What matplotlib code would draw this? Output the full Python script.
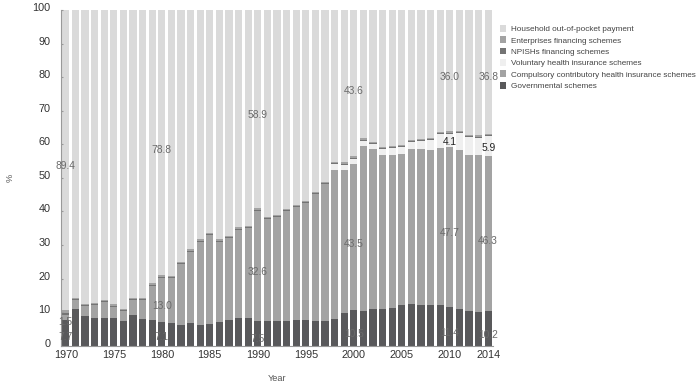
import matplotlib
matplotlib.use("Agg")
import matplotlib.pyplot as plt
from matplotlib.patches import Patch
import matplotlib.transforms as mtransforms
import numpy as np

years = list(range(1970, 2015))
governmental = [7.7, 11.0, 8.7, 8.4, 8.4, 8.4, 7.4, 9.1, 8.0, 7.7,
                7.1, 6.8, 6.3, 6.7, 6.3, 6.5, 7.0, 7.8, 8.3, 8.4,
                7.5, 7.4, 7.5, 7.5, 7.7, 7.7, 7.4, 7.5, 8.0, 9.7,
                10.5, 10.4, 10.8, 10.8, 11.1, 12.0, 12.4, 12.0, 12.0, 12.0,
                11.4, 11.0, 10.3, 10.1, 10.2]
compulsory = [1.5, 2.6, 3.0, 3.7, 4.5, 3.2, 2.8, 4.5, 5.6, 10.2,
              13.0, 13.3, 18.0, 21.3, 24.7, 26.5, 24.0, 24.2, 26.3, 26.6,
              32.6, 30.3, 30.8, 32.6, 33.5, 34.7, 37.7, 40.6, 44.3, 42.6,
              43.5, 49.2, 47.7, 46.0, 45.8, 45.1, 46.1, 46.7, 46.3, 46.9,
              47.7, 47.3, 46.6, 46.6, 46.3]
voluntary = [0.0] * 28 + [1.8, 1.6,
             1.7, 1.5, 1.5, 1.7, 1.9, 2.0, 2.1, 2.3, 2.9, 4.1,
             4.1, 5.0, 5.3, 5.3, 5.9]
npish = [0.4] + [0.3] * 9 + [0.4] + [0.3] * 34
enterprises = [1.0] + [0.4] * 9 + [0.7] + [0.4] * 9 + [0.7] + [0.4] * 19 + [0.5] + [0.4] * 3 + [0.5]
household = [89.4, 85.7, 87.6, 87.2, 86.4, 87.7, 89.1, 85.7, 85.7, 81.4,
             78.8, 79.2, 75.0, 71.3, 68.3, 66.3, 68.3, 67.3, 64.7, 64.3,
             58.9, 61.6, 61.0, 59.2, 58.1, 56.9, 54.2, 51.2, 45.2, 45.4,
             43.6, 38.2, 39.3, 40.8, 40.5, 40.2, 38.7, 38.3, 38.1, 36.3,
             36.0, 36.0, 37.1, 37.3, 36.8]

series_names = ["Governmental schemes",
                "Compulsory contributory health insurance schemes",
                "Voluntary health insurance schemes",
                "NPISHs financing schemes",
                "Enterprises financing schemes",
                "Household out-of-pocket payment"]
colors = ["#59595b", "#a3a3a3", "#efefef", "#747474", "#a3a3a3", "#dadada"]

# annotation labels
label_years = [1970, 1970, 1970, 1980, 1980, 1980, 1990, 1990, 1990,
               2000, 2000, 2000, 2010, 2010, 2010, 2010, 2014, 2014, 2014, 2014]
label_texts = ["89.4", "1.5", "7.7", "78.8", "13.0", "7.1", "58.9", "32.6", "7.5",
               "43.6", "43.5", "10.5", "36.0", "47.7", "11.4", "4.1",
               "36.8", "46.3", "10.2", "5.9"]
label_ypos = [53.5, 7.1, 2.6, 58.3, 11.8, 2.6, 68.7, 22.0, 2.0,
              75.8, 30.3, 3.5, 80.0, 33.6, 3.8, 60.7, 80.0, 31.2, 3.2, 58.9]
label_dark = [False] * 15 + [True] + [False] * 3 + [True]

plt.rcParams["font.family"] = ["Liberation Sans", "DejaVu Sans"]

fig = plt.figure(figsize=(6.99, 3.85), dpi=100)
ax = fig.add_axes([61 / 699, (385 - 345.7) / 385, (493 - 61) / 699, (345.7 - 10) / 385])

stack = [governmental, compulsory, voluntary, npish, enterprises, household]
bottom = np.zeros(len(years))
handles = []
for vals, name, c in zip(stack, series_names, colors):
    ax.bar(years, vals, bottom=bottom, width=0.74, color=c, linewidth=0)
    bottom += np.array(vals)
    handles.append(Patch(facecolor=c, edgecolor="none", label=name))

for yr, t, yp, dk in zip(label_years, label_texts, label_ypos, label_dark):
    ax.text(yr, yp, t, ha="center", va="center", fontsize=7.4,
            color="#222222" if dk else "#6a6a6a")

ax.set_xlim(1969.5, 2014.5)
ax.set_ylim(0, 100)
ax.set_xticks([1970, 1975, 1980, 1985, 1990, 1995, 2000, 2005, 2010, 2014])
ax.set_yticks(range(0, 101, 10))
ax.tick_params(axis="both", labelsize=7.8, colors="#333333")
ax.tick_params(axis="y", length=1.5, direction="in", color="#999999", pad=7.5)
ax.tick_params(axis="x", length=0, pad=3)
shift = mtransforms.ScaledTranslation(0, 3 / 100, fig.dpi_scale_trans)
for lbl in ax.get_yticklabels():
    lbl.set_transform(lbl.get_transform() + shift)
for s in ["top", "right"]:
    ax.spines[s].set_visible(False)
for s in ["left", "bottom"]:
    ax.spines[s].set_color("#999999")
    ax.spines[s].set_linewidth(0.8)

ax.set_xlabel("Year", fontsize=6.6, color="#555555", labelpad=10)
ax.set_ylabel("%", fontsize=6.6, color="#555555", labelpad=13)

leg = fig.legend(handles=handles[::-1], loc="upper left",
                 bbox_to_anchor=(500 / 699, 1 - 25 / 385), frameon=False,
                 fontsize=5.9, handlelength=0.75, handleheight=0.9,
                 handletextpad=0.6, labelspacing=0.38, borderaxespad=0,
                 borderpad=0)
for t in leg.get_texts():
    t.set_color("#444444")

fig.savefig("out.png", dpi=100)
